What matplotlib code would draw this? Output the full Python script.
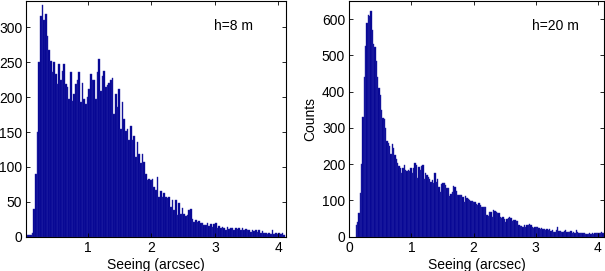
import matplotlib
matplotlib.use('Agg')
import matplotlib.pyplot as plt
import numpy as np

# Histogram counts (h = 8 m), bins from 0.01 to 4.11 arcsec
counts_8m = [0, 2, 3, 3, 5, 40, 90, 150, 250, 317, 332, 310, 319, 288, 267, 252,
             236, 250, 233, 219, 248, 224, 238, 248, 219, 214, 198, 236, 195, 205,
             219, 224, 236, 193, 221, 198, 190, 200, 212, 233, 224, 224, 198, 236,
             255, 209, 231, 238, 214, 217, 221, 224, 228, 176, 205, 186, 212, 155,
             193, 169, 152, 155, 138, 159, 138, 145, 114, 136, 119, 105, 118, 107,
             90, 81, 83, 81, 83, 71,
             67, 85, 57, 66, 57, 63, 57, 55, 57, 43, 52, 38, 52, 31, 48, 33,
             41, 33, 29, 31, 38, 39, 26, 21, 24, 21, 23, 19, 20, 17, 17, 19,
             15, 18, 14, 18, 19, 13, 15, 13, 14, 12, 10, 14, 11, 12, 12, 10,
             13, 11, 12, 9, 12, 9, 11, 9, 10, 7, 10, 8, 10, 7, 10, 6,
             8, 6, 6, 4, 5, 4, 10, 4, 5, 4, 5, 4, 5, 3]
range_8m = (0.0106, 4.106)

# Histogram counts (h = 20 m), bins from 0.10 to 4.12 arcsec
counts_20m = [32, 40, 64, 120, 200, 330, 440, 525, 590, 612, 608, 622, 570, 530,
              522, 485, 440, 410, 390, 350, 328, 325, 300, 265, 258, 250, 228, 255,
              245, 226, 215, 204, 194, 188, 176, 190, 197, 185, 180, 183, 181, 188,
              176, 190, 202, 198, 162, 192, 184, 196, 197, 158, 176, 169, 165, 160,
              150, 156, 148, 176, 152, 158, 138, 122, 145, 147, 147, 143, 134, 133,
              112, 118, 124, 139, 137, 127, 116, 115, 116, 115, 110, 97, 112, 106,
              103, 101, 99, 98, 96, 96, 90, 88,
              93, 87, 81, 83, 81, 81, 60, 57, 69, 69, 55, 73, 71, 69, 66, 64,
              53, 51, 53, 48, 41, 48, 51, 53, 51, 44, 46, 46, 44, 44, 32, 29,
              29, 27, 32, 27, 32, 32, 35, 32, 26, 23, 26, 26, 27, 23, 20, 23,
              20, 20, 18, 20, 18, 20, 16, 18, 14, 14, 18, 26, 16, 16, 14, 14,
              16, 18, 14, 13, 13, 15, 11, 13, 9, 18, 14, 11, 9, 9, 9, 9,
              7, 7, 7, 11, 7, 11, 7, 11, 9, 9, 11, 9, 13, 9, 9]
range_20m = (0.103, 4.118)

plt.rcParams['font.family'] = ['Liberation Sans', 'DejaVu Sans']
plt.rcParams['font.size'] = 10

bar_color = '#000090'
edge_color = '#2a2aa8'


def draw_hist(ax, counts, rng):
    edges = np.linspace(rng[0], rng[1], len(counts) + 1)
    ax.bar(edges[:-1], counts, width=np.diff(edges), align='edge',
           color=bar_color, edgecolor=edge_color, linewidth=0.3)


fig = plt.figure(figsize=(6.05, 2.71), dpi=100)

# ---------- left panel ----------
ax0 = fig.add_axes([0.0438, 0.1266, 0.4289, 0.870])
draw_hist(ax0, counts_8m, range_8m)
ax0.set_xlim(0.035, 4.12)
ax0.set_ylim(0, 338)
ax0.set_xticks([1, 2, 3, 4])
ax0.set_yticks(range(0, 301, 50))
ax0.set_xlabel('Seeing (arcsec)', labelpad=2)
ax0.text(2.98, 302, 'h=8 m', va='center', ha='left')

# ---------- right panel ----------
ax1 = fig.add_axes([0.5774, 0.1266, 0.4209, 0.870])
draw_hist(ax1, counts_20m, range_20m)
ax1.set_xlim(0, 4.1)
ax1.set_ylim(0, 650)
ax1.set_xticks([0, 1, 2, 3, 4])
ax1.set_yticks(range(0, 601, 100))
ax1.set_xlabel('Seeing (arcsec)', labelpad=2)
ax1.set_ylabel('Counts', labelpad=3)
ax1.text(2.94, 582, 'h=20 m', va='center', ha='left')

for ax in (ax0, ax1):
    ax.xaxis.set_ticks_position('both')
    ax.yaxis.set_ticks_position('both')
    ax.tick_params(which='major', direction='in', length=3, width=0.6, pad=3)
    for sp in ax.spines.values():
        sp.set_linewidth(0.8)

fig.savefig('out.png', dpi=100)
